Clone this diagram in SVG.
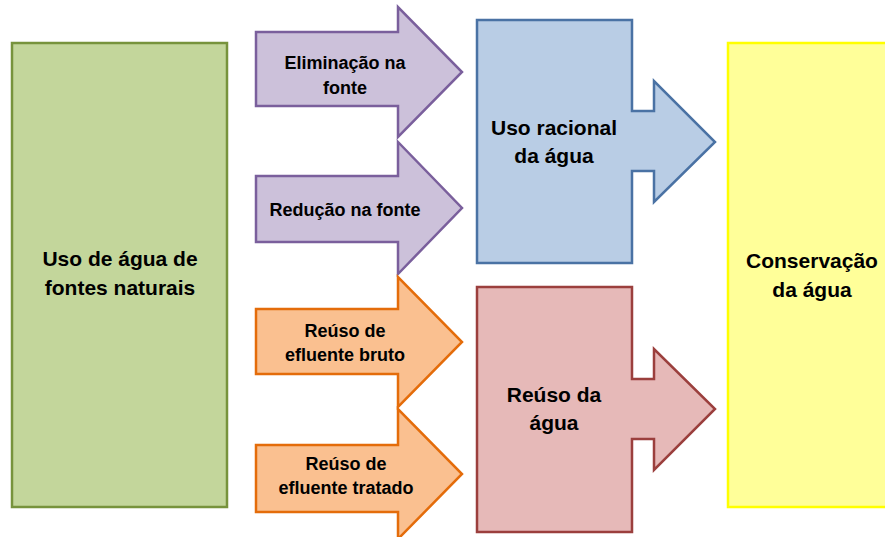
<svg xmlns="http://www.w3.org/2000/svg" width="885" height="537" viewBox="0 0 885 537">
<style>
  .t { font-family: "Liberation Sans", Arial, sans-serif; font-weight: bold; fill: #000; text-anchor: middle; }
  .s { font-size: 18px; }
  .b { font-size: 21px; }
  .sh { stroke-width: 2.5; stroke-linejoin: miter; }
  .green { fill: #C3D69B; stroke: #77933C; }
  .purple { fill: #CCC1DA; stroke: #7A5F9C; }
  .orange { fill: #FAC090; stroke: #E46C0A; }
  .blue { fill: #B9CDE5; stroke: #4A72A4; }
  .red { fill: #E6B9B8; stroke: #9B3F3D; }
  .yellow { fill: #FFFF99; stroke: #FFFF00; }
</style>
<rect width="885" height="537" fill="#FFFFFF"/>
<g id="fontes-naturais">
  <rect class="sh green" x="12" y="43" width="215" height="464"/>
  <text class="t b" x="120" y="266">Uso de água de</text>
  <text class="t b" x="120" y="295">fontes naturais</text>
</g>
<g id="conservacao">
  <rect class="sh yellow" x="728" y="43" width="172" height="464"/>
  <text class="t b" x="812" y="268">Conservação</text>
  <text class="t b" x="812" y="297">da água</text>
</g>
<g id="connectors">
  <g id="eliminacao">
    <path class="sh purple" d="M256,32 H398 V7 L462,72 L398,137 V106 H256 Z"/>
    <text class="t s" x="345" y="69">Eliminação na</text>
    <text class="t s" x="345" y="94">fonte</text>
  </g>
  <g id="reducao">
    <path class="sh purple" d="M256,176 H398 V142 L462,208 L398,274 V242 H256 Z"/>
    <text class="t s" x="345" y="216">Redução na fonte</text>
  </g>
  <g id="reuso-bruto">
    <path class="sh orange" d="M256,309 H398 V277 L462,342 L398,407 V374 H256 Z"/>
    <text class="t s" x="345" y="337">Reúso de</text>
    <text class="t s" x="345" y="361">efluente bruto</text>
  </g>
  <g id="reuso-tratado">
    <path class="sh orange" d="M256,445 H398 V409 L462,474 L398,539 V512 H256 Z"/>
    <text class="t s" x="346" y="470">Reúso de</text>
    <text class="t s" x="346" y="494">efluente tratado</text>
  </g>
</g>
<g id="uso-racional">
  <path class="sh blue" d="M477,20 H632 V111 H654 V81 L715,142 L654,202 V171 H632 V263 H477 Z"/>
  <text class="t b" x="554" y="135">Uso racional</text>
  <text class="t b" x="554" y="163">da água</text>
</g>
<g id="reuso-agua">
  <path class="sh red" d="M477,287 H632 V379 H654 V349 L715,409 L654,470 V439 H632 V532 H477 Z"/>
  <text class="t b" x="554" y="402">Reúso da</text>
  <text class="t b" x="554" y="430">água</text>
</g>
</svg>
